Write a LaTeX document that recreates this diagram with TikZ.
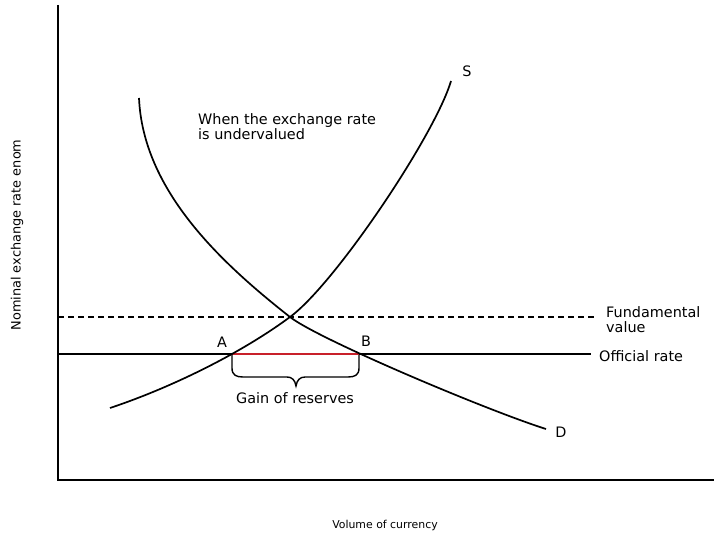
\documentclass[tikz,border=0pt]{standalone}
\usepackage{fontspec}
\setmainfont{DejaVu Sans}
\usepackage{tikz}
\definecolor{gainrot}{HTML}{C8202A}
\tikzset{
  ax/.style={black,line width=2.2pt},
  kurve/.style={black,line width=1.7pt,line join=round},
  kurs/.style={black,line width=1.7pt},
  hilf/.style={black,line width=1.6pt,dash pattern=on 6pt off 4pt},
  gain/.style={gainrot,line width=2pt},
  klammer/.style={black,line width=1.4pt},
  lab/.style={font=\fontsize{14.4}{15}\selectfont,inner sep=0pt},
  klein/.style={font=\fontsize{10.9}{12}\selectfont,inner sep=0pt},
}

\begin{document}
\begin{tikzpicture}[x=1pt,y=-1pt]
  \useasboundingbox (0,0) rectangle (720,540);
  \coordinate (O) at (58,480); \coordinate (ytop) at (58,5); \coordinate (xend) at (714,480);
  \draw[ax] (ytop) -- (O) -- (xend);
  \coordinate (ok0) at (58,354); \coordinate (ok1) at (591,354);
  \coordinate (fw0) at (58,317); \coordinate (fw1) at (595,317);
  \coordinate (A) at (232,354); \coordinate (B) at (359,354); \coordinate (E) at (290,317);
  \draw[kurs] (ok0) -- (ok1);
  \draw[hilf] (fw0) -- (fw1);
  \draw[gain] (A) -- (B);
  \draw[kurve] (110,408) .. controls (170,388) and (240,354) .. (E)
    .. controls (335,284) and (435,135) .. (451,81);
  \draw[kurve] (139,98) .. controls (143,190) and (220,262) .. (E)
    .. controls (318,339) and (486,410) .. (546,429);
  \draw[klammer] (232,355) -- (232,368) .. controls (232,375) and (236,377) .. (243,377) -- (287,377)
    .. controls (292,377) and (295,380) .. (296,386) .. controls (297,380) and (300,377) .. (305,377)
    -- (348,377) .. controls (355,377) and (359,375) .. (359,368) -- (359,355);
  \node[lab] (lS) at (467,71) {S};
  \node[lab] (lD) at (561,432) {D};
  \node[lab] (lA) at (222,342) {A};
  \node[lab] (lB) at (366,341) {B};
  \node[lab,anchor=north west,align=left] (under) at (198,113) {When the exchange rate\\is undervalued};
  \node[lab,anchor=north west,align=left] (fund) at (606,306) {Fundamental\\value};
  \node[lab,anchor=west] (offiz) at (599,356) {Official rate};
  \node[lab] (reserv) at (295,398) {Gain of reserves};
  \node[klein] (xlab) at (385,525) {Volume of currency};
  \node[klein,font=\fontsize{12.9}{14}\selectfont,rotate=90] (ylab) at (17,235) {Nominal exchange rate enom};
\end{tikzpicture}
\end{document}
